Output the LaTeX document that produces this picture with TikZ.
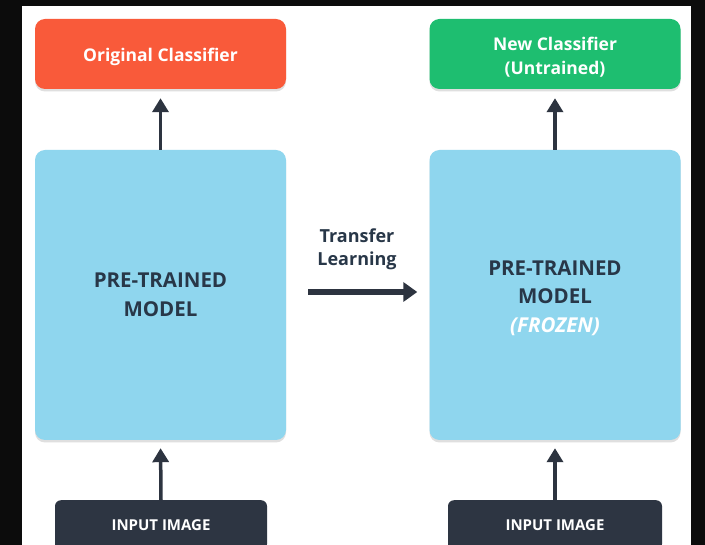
\documentclass[tikz,border=0pt]{standalone}
\usepackage{fontspec}
\setmainfont{Open Sans}
\usetikzlibrary{arrows.meta,shadows}
\definecolor{bgdark}{RGB}{12,12,12}
\definecolor{orig}{RGB}{249,90,58}
\definecolor{newc}{RGB}{30,190,112}
\definecolor{model}{RGB}{143,214,238}
\definecolor{darkt}{RGB}{40,55,72}
\definecolor{inbox}{RGB}{45,53,66}
\definecolor{arr}{RGB}{45,52,64}
\tikzset{
  box/.style={rounded corners=10pt, draw=none, align=center,
    drop shadow={shadow xshift=0pt, shadow yshift=-2.5pt, opacity=0.25, fill=gray}},
  classbox/.style={box, minimum width=251pt, minimum height=70pt},
  classtext/.style={text=white, align=center, font=\bfseries\fontsize{17.5}{24}\selectfont},
  modelbox/.style={box, fill=model, minimum width=251pt, minimum height=290pt},
  modeltext/.style={text=darkt, align=center, font=\bfseries\fontsize{20.5}{28.5}\selectfont},
  inputbox/.style={rounded corners=6pt, fill=inbox, text=white, minimum height=50pt, font=\bfseries\fontsize{15}{18}\selectfont},
  uparrow/.style={draw=arr, line width=3.5pt, -{Triangle[width=16pt,length=14pt]}},
  transarrow/.style={draw=arr, line width=6pt, -{Triangle[width=19pt,length=14pt]}}
}
\begin{document}
\begin{tikzpicture}[x=1pt,y=-1pt]
\useasboundingbox (0,0) rectangle (705,545);
\fill[bgdark] (0,0) rectangle (705,545);
\fill[white] (22,6) rectangle (691,550);
\begin{scope}
\clip (0,0) rectangle (705,545);
\node[classbox, fill=orig] (oc) at (160.5,54) {};
\node[classbox, fill=newc] (nc) at (555,54) {};
\node[modelbox] (lm) at (160.5,295) {};
\node[modelbox] (rm) at (555,295) {};
\node[inputbox, minimum width=212pt, anchor=north] (li) at (161,500) {\raisebox{-10pt}{INPUT IMAGE}};
\node[inputbox, minimum width=214pt, anchor=north] (ri) at (555,500) {\raisebox{-10pt}{INPUT IMAGE}};
\end{scope}
\node[classtext] (oct) at (160.5,57) {Original Classifier};
\node[classtext] (nct) at (555,57) {New Classifier\\(Untrained)};
\node[modeltext] (lmt) at (160.5,295) {PRE-TRAINED\\MODEL};
\node[modeltext] (rmt) at (555,298) {PRE-TRAINED\\MODEL\\{\color{white}\itshape (FROZEN)}};
\node[text=darkt, align=center, font=\bfseries\fontsize{18}{23}\selectfont] (tl) at (357,249) {Transfer\\Learning};
\draw[uparrow, shorten >=9pt] (lm.north) -- (oc.south);
\draw[uparrow, shorten >=9pt] (rm.north) -- (nc.south);
\draw[uparrow, shorten >=8pt] (li.north) -- (lm.south);
\draw[uparrow, shorten >=8pt] (ri.north) -- (rm.south);
\draw[transarrow, shorten <=22pt, shorten >=12pt] ([yshift=3pt]lm.east) -- ([yshift=3pt]rm.west);
\end{tikzpicture}
\end{document}
